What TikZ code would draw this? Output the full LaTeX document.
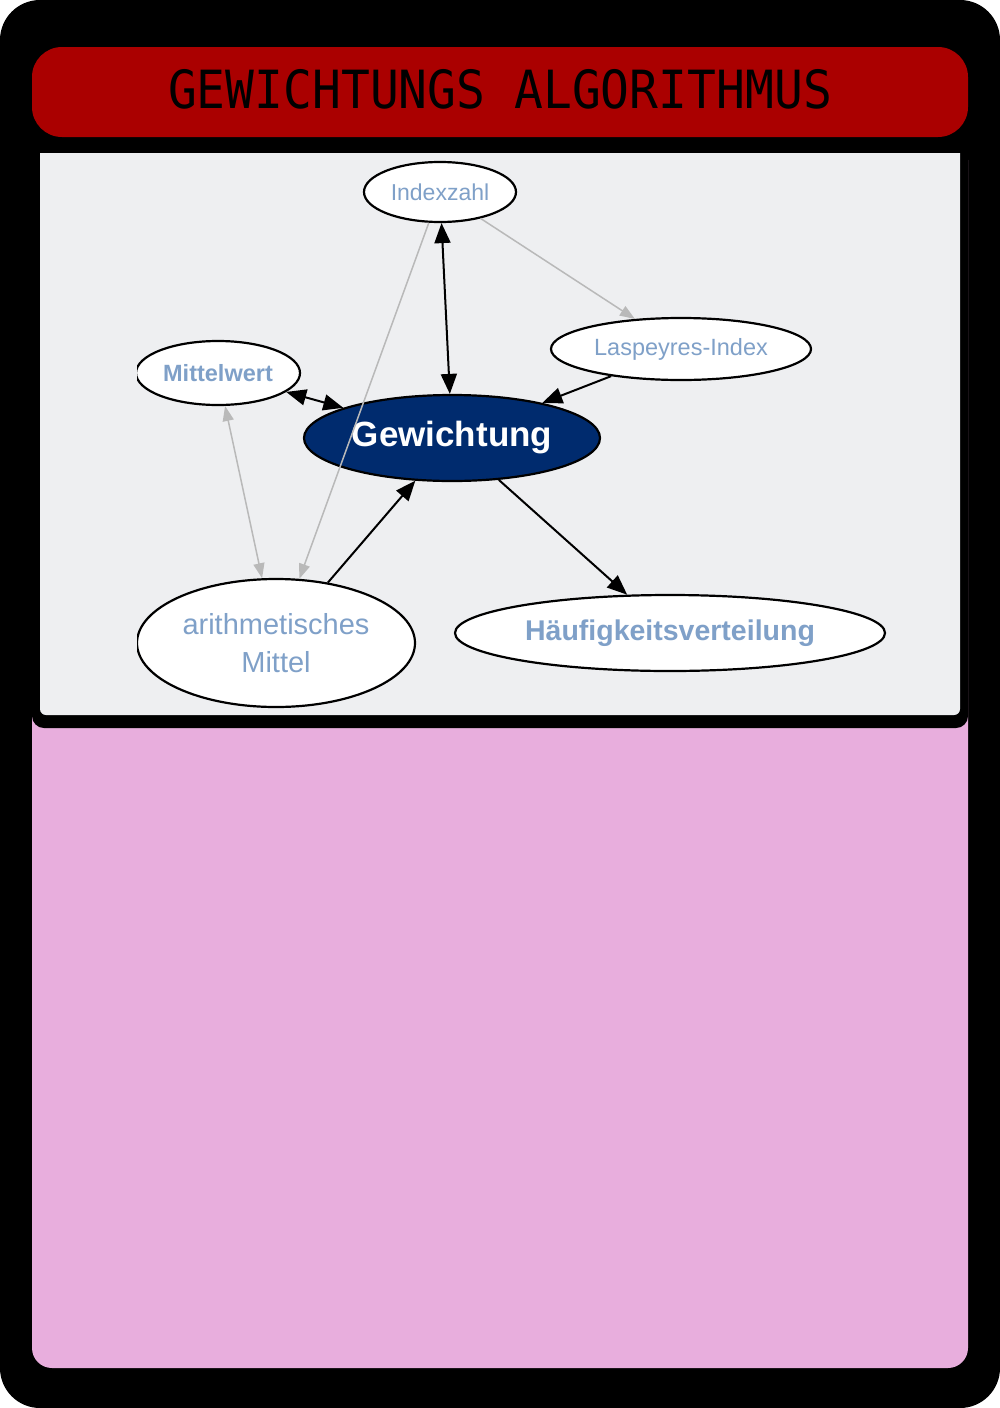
\documentclass[tikz,border=0pt]{standalone}
\usepackage{fontspec}
\setmainfont{Liberation Sans}
\newfontfamily\lcdfont{DejaVu Sans Mono}
\usetikzlibrary{shapes.geometric,arrows.meta}
\definecolor{cardpink}{RGB}{232,174,221}
\definecolor{titlered}{RGB}{170,0,0}
\definecolor{imggray}{RGB}{238,239,241}
\definecolor{navy}{RGB}{0,43,110}
\definecolor{lblue}{RGB}{127,160,200}
\definecolor{edgegray}{RGB}{185,185,185}
\tikzset{
  nd/.style={ellipse, draw=black, line width=2.2pt, fill=white, inner sep=0pt, text=lblue},
  blk/.style={draw=black, line width=2pt, >={Triangle[length=20pt,width=16pt]}},
  gry/.style={draw=edgegray, line width=1.5pt, >={Triangle[length=15pt,width=11pt]}},
}
\begin{document}
\begin{tikzpicture}[x=1pt,y=-1pt]
\useasboundingbox (0,0) rectangle (1000,1408);
% card frame
\fill[black, rounded corners=40pt] (0,0) rectangle (1000,1408);
\fill[cardpink, rounded corners=20pt] (32,140) rectangle (968,1368);
\fill[black, rounded corners=12pt] (32,100) rectangle (968,728);
\fill[imggray] (40,153) -- (960,153) [rounded corners=6pt] -- (960,715) -- (40,715) [sharp corners] -- cycle;
\fill[titlered, rounded corners=30pt] (32,47) rectangle (968,137);
\node[text=black, inner sep=0pt] (title) at (500,89) {\scalebox{1.02}[1.12]{\lcdfont\fontsize{47}{47}\selectfont GEWICHTUNGS ALGORITHMUS}};
% graph
\begin{scope}
\clip (137,153) rectangle (960,715);
\node[nd, minimum width=152pt, minimum height=60pt, font=\fontsize{23}{23}\selectfont] (idx) at (440,192) {Indexzahl};
\node[nd, minimum width=260pt, minimum height=62pt, font=\fontsize{23.5}{23.5}\selectfont] (lasp) at (681,349) {Laspeyres-Index};
\node[nd, minimum width=164pt, minimum height=64pt, font=\bfseries\fontsize{23.5}{23.5}\selectfont] (mw) at (218,373) {Mittelwert};
\node[nd, fill=navy, text=white, minimum width=296pt, minimum height=86pt, font=\bfseries\fontsize{35}{35}\selectfont] (gew) at (452,438) {Gewichtung};
\node[nd, minimum width=278pt, minimum height=128pt, align=center, font=\fontsize{29}{38}\selectfont] (am) at (276,643) {arithmetisches\\Mittel};
\node[nd, minimum width=430pt, minimum height=76pt, font=\bfseries\fontsize{28.5}{28.5}\selectfont] (hv) at (670,633) {Häufigkeitsverteilung};
% edges
\draw[blk, <->] (idx) -- (gew);
\draw[gry, ->] (idx) -- (lasp);
\draw[blk, ->] (lasp) -- (gew);
\draw[blk, <->] (mw) -- (gew);
\draw[gry, <->] (am) -- (mw);
\draw[blk, ->] (am) -- (gew);
\draw[blk, ->] (gew) -- (hv);
\draw[gry, ->] (idx) -- (am);
\end{scope}
\end{tikzpicture}
\end{document}
